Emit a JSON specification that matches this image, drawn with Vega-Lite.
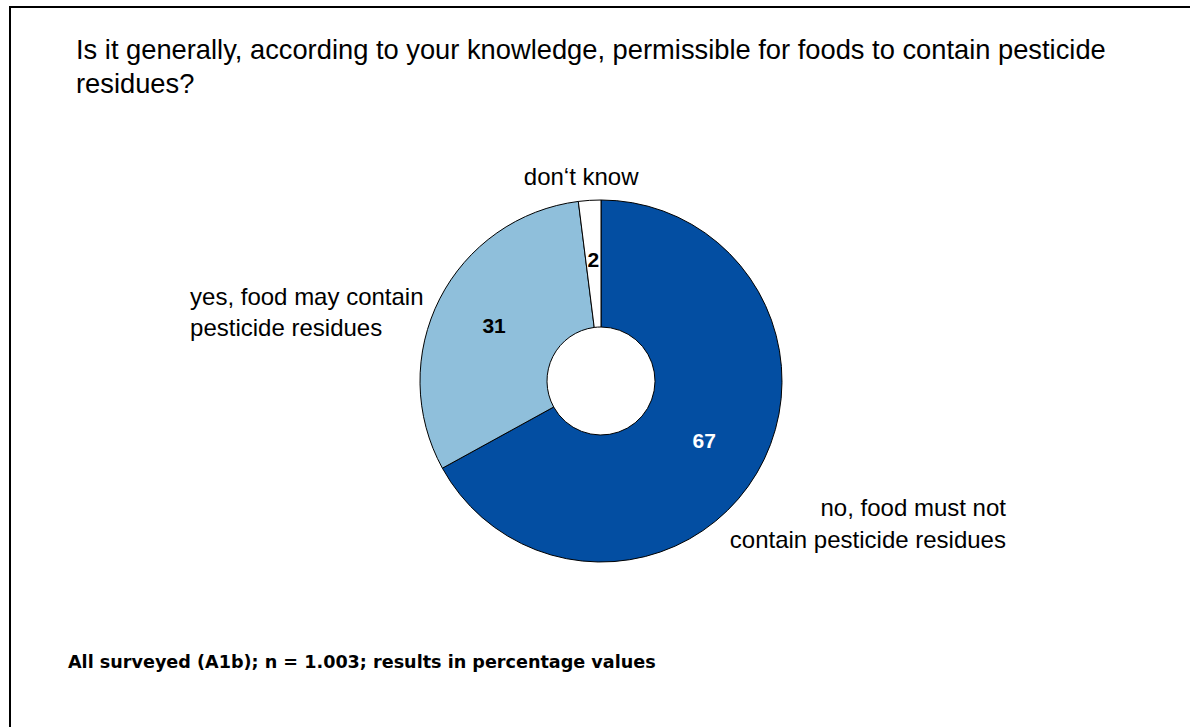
{
  "$schema": "https://vega.github.io/schema/vega-lite/v6.json",
  "padding": {"left": 9, "top": 6, "right": 0, "bottom": 0},
  "autosize": {"type": "pad"},
  "background": "white",
  "config": {
    "view": {"stroke": "black", "strokeWidth": 2},
    "font": "Liberation Sans"
  },
  "title": {
    "text": ["Is it generally, according to your knowledge, permissible for foods to contain pesticide", "residues?"],
    "orient": "top",
    "anchor": "start",
    "offset": -92,
    "dx": 67,
    "font": "Liberation Sans",
    "fontSize": 27.3,
    "fontWeight": "normal",
    "lineHeight": 34,
    "color": "black"
  },
  "vconcat": [
    {
      "width": 1182,
      "height": 748,
      "view": {"stroke": "black", "strokeWidth": 2, "fill": "white"},
      "title": {
        "text": "All surveyed (A1b); n = 1.003; results in percentage values",
        "orient": "bottom",
        "anchor": "start",
        "offset": -101,
        "dx": 58,
        "font": "DejaVu Sans",
        "fontSize": 17.6,
        "fontWeight": "bold",
        "color": "black"
      },
      "data": {
        "values": [
          {"cat": "no", "label": "no, food must not\ncontain pesticide residues", "value": 67, "ord": 1},
          {"cat": "yes", "label": "yes, food may contain\npesticide residues", "value": 31, "ord": 2},
          {"cat": "dk", "label": "don‘t know", "value": 2, "ord": 3}
        ]
      },
      "encoding": {
        "theta": {"field": "value", "type": "quantitative", "stack": true},
        "order": {"field": "ord", "type": "quantitative"}
      },
      "layer": [
        {
          "mark": {"type": "arc", "outerRadius": 181, "innerRadius": 54, "stroke": "black", "strokeWidth": 1},
          "encoding": {
            "color": {
              "field": "cat",
              "type": "nominal",
              "scale": {"domain": ["no", "yes", "dk"], "range": ["#034EA2", "#8FBFDB", "#FFFFFF"]},
              "legend": null
            }
          }
        },
        {
          "mark": {"type": "text", "radius": 120, "fontSize": 21, "fontWeight": "bold", "font": "Liberation Sans"},
          "encoding": {
            "text": {"field": "value", "type": "quantitative"},
            "color": {"condition": {"test": "datum.cat === 'no'", "value": "white"}, "value": "black"}
          }
        },
        {
          "mark": {"type": "text", "radius": 204, "fontSize": 24, "align": "center", "dx": -7, "dy": 1, "lineBreak": "\n", "color": "black"},
          "encoding": {
            "text": {"condition": {"test": "datum.cat === 'dk'", "field": "label"}, "value": ""}
          }
        },
        {
          "mark": {"type": "text", "radius": 230, "fontSize": 24, "align": "left", "dx": -206, "dy": 21, "lineBreak": "\n", "lineHeight": 31, "color": "black"},
          "encoding": {
            "text": {"condition": {"test": "datum.cat === 'yes'", "field": "label"}, "value": ""}
          }
        },
        {
          "mark": {"type": "text", "radius": 230, "fontSize": 24, "align": "right", "dx": 207, "dy": 11, "lineBreak": "\n", "lineHeight": 32, "color": "black"},
          "encoding": {
            "text": {"condition": {"test": "datum.cat === 'no'", "field": "label"}, "value": ""}
          }
        }
      ]
    }
  ]
}
